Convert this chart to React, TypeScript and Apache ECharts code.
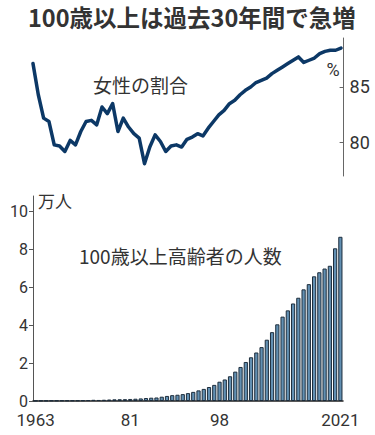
import React, { useEffect, useRef } from "react";
import * as echarts from "echarts";

const years: number[] = [];
for (let y = 1963; y <= 2021; y++) years.push(y);

// 100歳以上高齢者の人数 (万人)
const centenarians = [
  0.0153, 0.0191, 0.0198, 0.0252, 0.0255, 0.0327, 0.031, 0.031, 0.0339, 0.0405,
  0.0495, 0.0627, 0.0548, 0.0666, 0.0784, 0.0887, 0.0937, 0.0968, 0.1072, 0.12,
  0.1354, 0.1567, 0.174, 0.1851, 0.2271, 0.2668, 0.3078, 0.3298, 0.3625, 0.4152,
  0.4802, 0.5593, 0.6378, 0.7373, 0.8491, 1.0158, 1.1346, 1.3036, 1.5475, 1.7934,
  2.0561, 2.3038, 2.5554, 2.8395, 3.2295, 3.6276, 4.0399, 4.4449, 4.7756, 5.1376,
  5.4397, 5.882, 6.1568, 6.5692, 6.7824, 6.9785, 7.1238, 8.045, 8.651,
];

// 女性の割合 (%)
const femaleShare = [
  87.1, 84.3, 82.2, 81.9, 79.8, 79.7, 79.2, 80.2, 79.8, 81.0,
  81.9, 82.0, 81.6, 83.2, 82.6, 83.5, 81.0, 82.2, 81.4, 80.8,
  80.4, 78.1, 79.6, 80.7, 80.1, 79.2, 79.7, 79.8, 79.6, 80.3,
  80.5, 80.8, 80.6, 81.3, 81.9, 82.5, 82.9, 83.5, 83.8, 84.3,
  84.7, 85.0, 85.4, 85.6, 85.8, 86.2, 86.5, 86.8, 87.1, 87.4,
  87.7, 87.2, 87.4, 87.6, 88.0, 88.2, 88.3, 88.3, 88.5,
];

const xTickLabels: Record<number, string> = { 1963: "1963", 1981: "81", 1998: "98", 2021: "2021" };
const shareTicks = [80, 85];

const NUM_FONT = "Roboto, 'Noto Sans CJK JP', sans-serif";
const JP_FONT = "'Noto Sans CJK JP', sans-serif";
const TEXT = "#333333";

export default function App() {
  const ref = useRef<HTMLDivElement>(null);
  useEffect(() => {
    if (!ref.current) return;
    const chart = echarts.init(ref.current, undefined, { renderer: "svg" });
    chart.setOption({
      animation: false,
      backgroundColor: "#ffffff",
      grid: [
        { left: 33, top: 38, width: 310.6, height: 138 },
        { left: 33, top: 196, width: 310, height: 205 },
      ],
      xAxis: [
        { gridIndex: 0, type: "value", min: 1963, max: 2021.5, show: false },
        {
          gridIndex: 1,
          type: "category",
          data: years.map(String),
          axisLine: { lineStyle: { color: "#222", width: 1.5 } },
          axisTick: { show: false },
          axisLabel: {
            interval: (i: number) => xTickLabels[years[i]] !== undefined,
            formatter: (v: string) => xTickLabels[Number(v)] ?? "",
            fontFamily: NUM_FONT,
            fontSize: 17,
            lineHeight: 16,
            color: TEXT,
            margin: 11,
          },
        },
      ],
      yAxis: [
        {
          gridIndex: 0,
          type: "value",
          position: "right",
          min: 77,
          max: 89.4,
          splitLine: { show: false },
          axisLine: { show: true, lineStyle: { color: "#666", width: 1 } },
          axisTick: { show: true, inside: true, length: 4, lineStyle: { color: "#666" }, customValues: shareTicks },
          axisLabel: { customValues: shareTicks, fontFamily: NUM_FONT, fontSize: 18, color: TEXT, margin: 6 },
        },
        {
          gridIndex: 1,
          type: "value",
          min: 0,
          max: 10.8,
          interval: 2,
          splitLine: { show: false },
          axisLine: { show: true, lineStyle: { color: "#555", width: 1 } },
          axisTick: { show: true, length: 4, lineStyle: { color: "#555" } },
          axisLabel: { showMaxLabel: false, fontFamily: NUM_FONT, fontSize: 16, lineHeight: 14, color: TEXT, margin: 5 },
        },
      ],
      series: [
        {
          type: "line",
          xAxisIndex: 0,
          yAxisIndex: 0,
          data: years.map((y, i) => [y, femaleShare[i]]),
          showSymbol: false,
          lineStyle: { color: "#0c3866", width: 3.5, join: "round", cap: "round" },
        },
        {
          type: "bar",
          xAxisIndex: 1,
          yAxisIndex: 1,
          data: centenarians,
          barCategoryGap: "20%",
          itemStyle: { color: "#6290b3", borderColor: "#1d2d3c", borderWidth: 1 },
        },
      ],
      graphic: [
        {
          type: "text",
          x: 28,
          y: 17,
          style: {
            text: "100歳以上は過去30年間で急増",
            fontFamily: JP_FONT,
            fontWeight: "bold",
            fontSize: 23.5,
            fill: TEXT,
            textVerticalAlign: "middle",
          },
        },
        {
          type: "text",
          x: 93,
          y: 84,
          style: { text: "女性の割合", fontFamily: JP_FONT, fontSize: 19, fill: TEXT, textVerticalAlign: "middle" },
        },
        {
          type: "text",
          x: 333,
          y: 69,
          style: { text: "%", fontFamily: NUM_FONT, fontSize: 18, fill: TEXT, textAlign: "center", textVerticalAlign: "middle" },
        },
        {
          type: "text",
          x: 38,
          y: 200,
          style: { text: "万人", fontFamily: JP_FONT, fontSize: 17, fill: TEXT, textVerticalAlign: "middle" },
        },
        {
          type: "text",
          x: 79,
          y: 255,
          style: { text: "100歳以上高齢者の人数", fontFamily: JP_FONT, fontSize: 19, fill: TEXT, textVerticalAlign: "middle" },
        },
      ],
    });
    return () => chart.dispose();
  }, []);
  return <div ref={ref} style={{ position: "absolute", left: 0, top: 0, width: 375, height: 435 }} />;
}
